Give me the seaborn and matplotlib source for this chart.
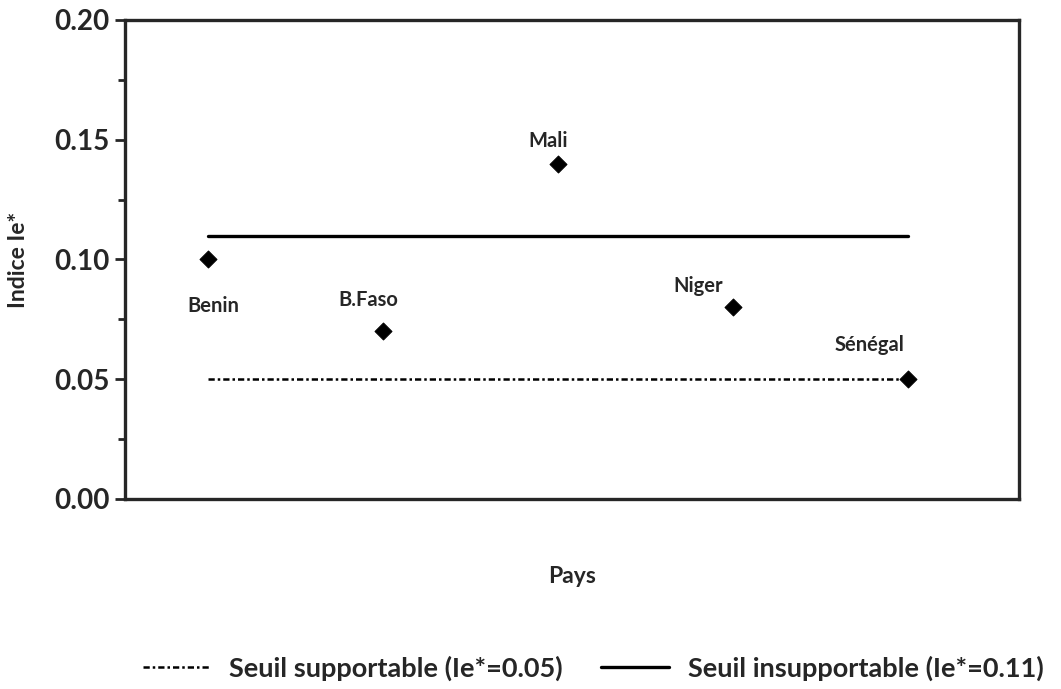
import matplotlib
matplotlib.use("Agg")
import matplotlib.pyplot as plt
from matplotlib.ticker import MultipleLocator, FormatStrFormatter
from matplotlib.lines import Line2D
import seaborn as sns

pays = ["Benin", "B.Faso", "Mali", "Niger", "Sénégal"]
indice = [0.10, 0.07, 0.14, 0.08, 0.05]
seuil_supportable = 0.05
seuil_insupportable = 0.11

# label offsets (pixels) relative to each point
label_offsets = {"Benin": (5, -47), "B.Faso": (-15, 31), "Mali": (-10, 23),
                 "Niger": (-35, 21), "Sénégal": (-38, 34)}

sns.set_style("ticks")
plt.rcParams['font.family'] = ['Lato', 'DejaVu Sans']

fig = plt.figure(figsize=(10.61, 6.89), dpi=100)
ax = fig.add_axes([0.1178, 0.2758, 0.8426, 0.6952])

# points first so the category order is Benin..Sénégal
sns.scatterplot(x=pays, y=indice, ax=ax, marker="D", s=75, color="black",
                edgecolor="black", zorder=5)
dotted = (0, (2.5, 1.2, 1, 1.2))
sns.lineplot(x=[pays[0], pays[-1]], y=[seuil_supportable] * 2, ax=ax,
             color="black", linewidth=1.8, linestyle=dotted)
sns.lineplot(x=[pays[0], pays[-1]], y=[seuil_insupportable] * 2, ax=ax,
             color="black", linewidth=2.4)

for p, v in zip(pays, indice):
    dx, dy = label_offsets[p]
    ax.annotate(p, (p, v), xytext=(dx, dy), textcoords="offset pixels",
                ha="center", va="center", fontsize=14.5, fontweight="bold")

ax.set_xlim(-0.474, 4.634)
ax.set_ylim(0, 0.2)
ax.yaxis.set_major_locator(MultipleLocator(0.05))
ax.yaxis.set_minor_locator(MultipleLocator(0.025))
ax.yaxis.set_major_formatter(FormatStrFormatter("%.2f"))
ax.set_xticks([])
ax.tick_params(axis="y", which="major", labelsize=20, length=7, width=2, pad=4)
ax.tick_params(axis="y", which="minor", length=5, width=2)
for lab in ax.get_yticklabels():
    lab.set_fontweight("bold")
for s in ax.spines.values():
    s.set_linewidth(2.4)
    s.set_visible(True)

ax.set_xlabel("Pays", fontsize=16.5, fontweight="bold", labelpad=48)
ax.set_ylabel("Indice Ie*", fontsize=16.5, fontweight="bold", labelpad=18)

handles = [Line2D([], [], color="black", linewidth=1.8, linestyle=dotted),
           Line2D([], [], color="black", linewidth=2.4)]
fig.legend(handles, ["Seuil supportable (Ie*=0.05)", "Seuil insupportable (Ie*=0.11)"],
           loc="center", bbox_to_anchor=(0.559, 0.03), ncol=2, frameon=False,
           prop={"size": 19.5, "weight": "bold"}, handlelength=2.5,
           columnspacing=1.4, handletextpad=0.7)

fig.savefig("out.png", dpi=100)
